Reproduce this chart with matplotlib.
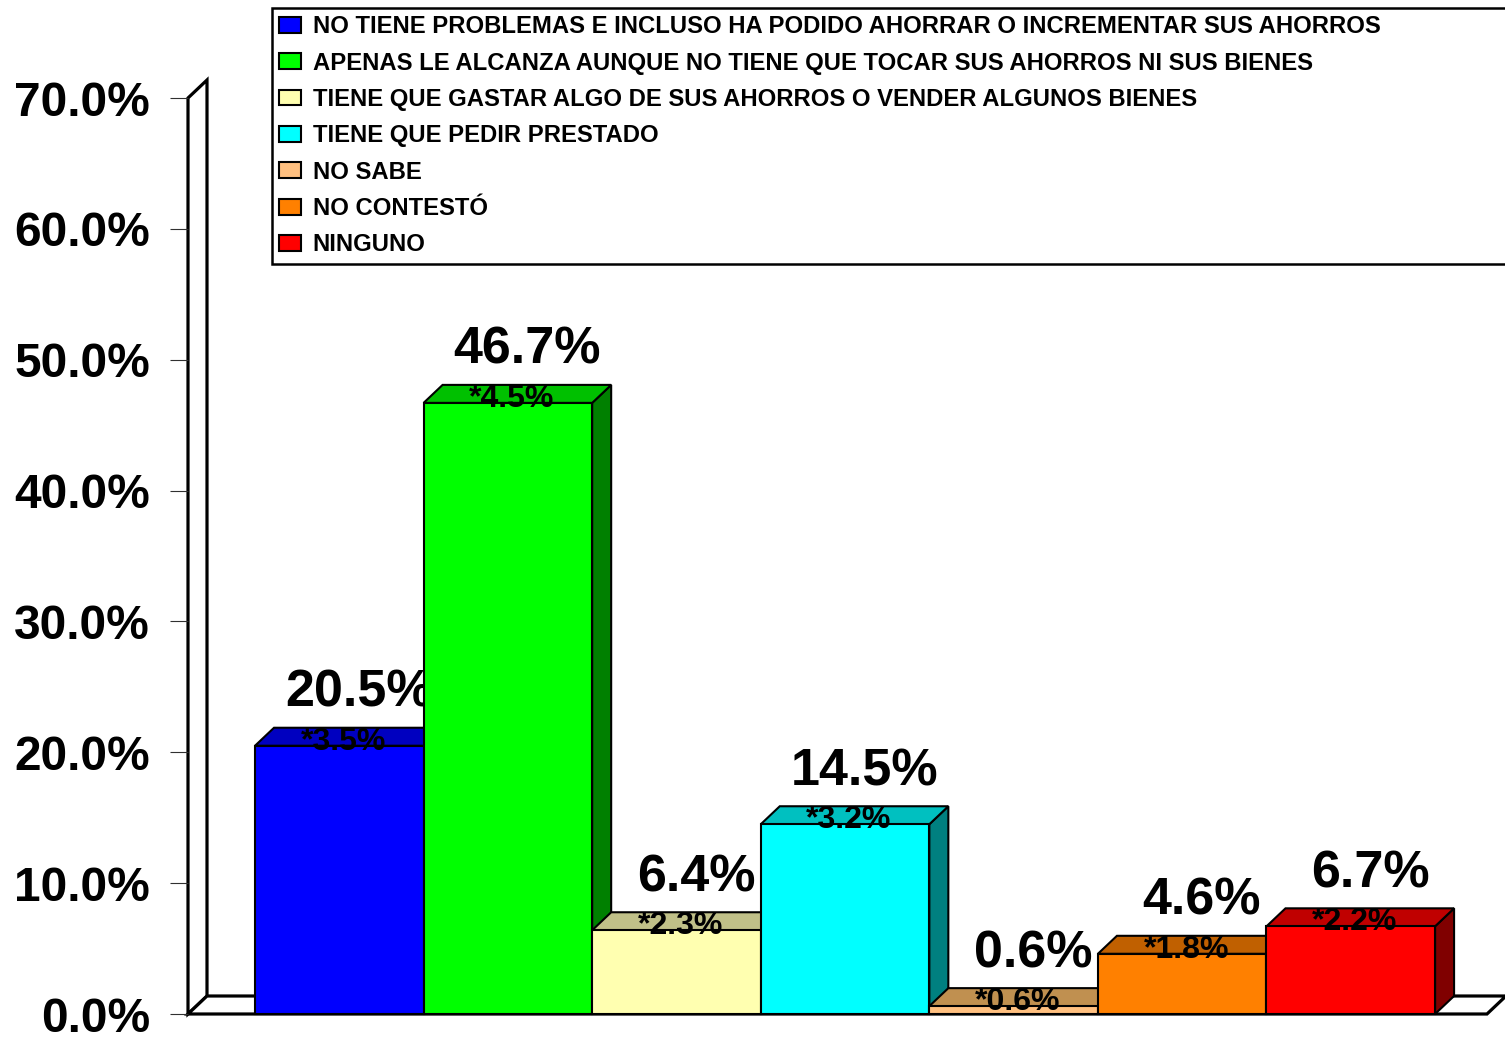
import matplotlib
matplotlib.use("Agg")
import matplotlib.pyplot as plt
from matplotlib.patches import Polygon, Patch

plt.rcParams['font.family'] = ['Liberation Sans', 'DejaVu Sans']
plt.rcParams['font.weight'] = 'bold'

categories = [
    "NO TIENE PROBLEMAS E INCLUSO HA PODIDO AHORRAR O INCREMENTAR SUS AHORROS",
    "APENAS LE ALCANZA AUNQUE NO TIENE QUE TOCAR SUS AHORROS NI SUS BIENES",
    "TIENE QUE GASTAR ALGO DE SUS AHORROS O VENDER ALGUNOS BIENES",
    "TIENE QUE PEDIR PRESTADO",
    "NO SABE",
    "NO CONTESTÓ",
    "NINGUNO",
]
values = [20.5, 46.7, 6.4, 14.5, 0.6, 4.6, 6.7]
margin_labels = ["*3.5%", "*4.5%", "*2.3%", "*3.2%", "*0.6%", "*1.8%", "*2.2%"]
front_colors = ["#0000FF", "#00FF00", "#FFFFB0", "#00FFFF", "#FFC080", "#FF8000", "#FF0000"]
top_colors = ["#0000C0", "#00C000", "#C0C088", "#00C0C0", "#C09050", "#C06000", "#C00000"]
side_colors = ["#000080", "#008000", "#808058", "#008080", "#806040", "#804000", "#800000"]
yticks = [0, 10, 20, 30, 40, 50, 60, 70]
ytick_labels = ["0.0%", "10.0%", "20.0%", "30.0%", "40.0%", "50.0%", "60.0%", "70.0%"]

W, H = 1505, 1037
fig = plt.figure(figsize=(W / 100, H / 100), dpi=100)
ax = fig.add_axes([188 / W, 23 / H, (1487 - 188) / W, (1014 - 98) / H])
xlim = (-0.8975, 6.808)
ax.set_xlim(*xlim)
ax.set_ylim(0, 70)
for s in ax.spines.values():
    s.set_visible(False)
ax.set_xticks([])
ax.set_yticks(yticks)
ax.set_yticklabels(ytick_labels, fontsize=34.5, fontweight='bold')
ax.tick_params(axis='y', length=13, width=0.8, color='#303030', direction='out', pad=14.5)

# depth offsets in data units (from pixel depth of 19 x 18)
px_per_x = ax.bbox.width / (xlim[1] - xlim[0])
px_per_y = ax.bbox.height / 70.0
dx = 19 / px_per_x
dy = 18 / px_per_y

wall_kw = dict(facecolor='white', edgecolor='black', linewidth=2.3, clip_on=False, joinstyle='miter')
x0, x1 = xlim
ax.add_patch(Polygon([(x0, 0), (x0, 70), (x0 + dx, 70 + dy), (x0 + dx, dy)], zorder=1, **wall_kw))
ax.add_patch(Polygon([(x0, 0), (x1, 0), (x1 + dx, dy), (x0 + dx, dy)], zorder=1, **wall_kw))

for i, v in enumerate(values):
    z = 10 + i * 5
    l, r = i - 0.5, i + 0.5
    ax.add_patch(Polygon([(r, 0), (r, v), (r + dx, v + dy), (r + dx, dy)],
                         facecolor=side_colors[i], edgecolor='black', linewidth=1.5,
                         zorder=z, clip_on=False))
    ax.add_patch(Polygon([(l, v), (r, v), (r + dx, v + dy), (l + dx, v + dy)],
                         facecolor=top_colors[i], edgecolor='black', linewidth=1.5,
                         zorder=z + 1, clip_on=False))
    ax.bar([i], [v], width=1.0, color=front_colors[i], edgecolor='black',
           linewidth=1.5, zorder=z + 2, clip_on=False)
    ax.annotate(f"{v:.1f}%", xy=(i, v), xytext=(19.5, 39), textcoords='offset pixels',
                ha='center', va='baseline', fontsize=37.5, fontweight='bold',
                zorder=z + 3, annotation_clip=False)
    ax.annotate(margin_labels[i], xy=(i, v), xytext=(4, -4), textcoords='offset pixels',
                ha='center', va='baseline', fontsize=23, fontweight='bold',
                zorder=z + 4, annotation_clip=False)

handles = [Patch(facecolor=c, edgecolor='black', linewidth=1.5) for c in front_colors]
leg = fig.legend(handles, categories, loc='upper left',
                 bbox_to_anchor=(272 / W, 1 - 262 / H, 1.0, (262 - 8) / H),
                 mode='expand', borderaxespad=0,
                 prop={'weight': 'bold', 'size': 17.2},
                 handlelength=0.93, handleheight=0.64, handletextpad=0.47,
                 labelspacing=0.56, borderpad=0.3, fancybox=False, framealpha=1,
                 edgecolor='black')
leg.get_frame().set_linewidth(1.8)

fig.savefig("out.png", dpi=100)
